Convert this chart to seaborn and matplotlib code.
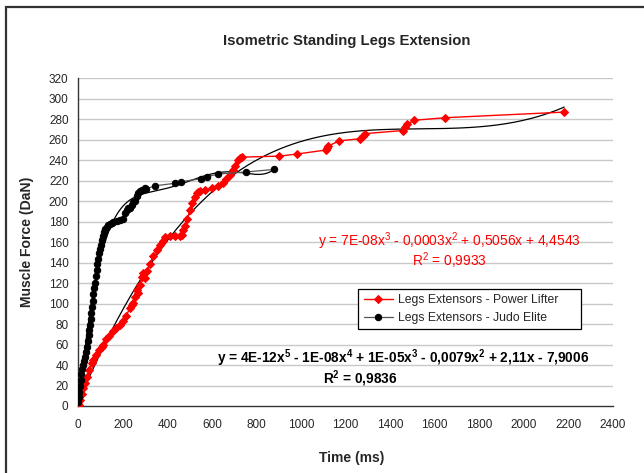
import numpy as np
import pandas as pd
import matplotlib
matplotlib.use("Agg")
import matplotlib.pyplot as plt
import seaborn as sns
from matplotlib.patches import Rectangle

# ---------------- data ----------------
power_time = [3, 8, 15, 22, 30, 40, 50, 60, 67, 80, 95, 105, 112, 125, 140, 157, 170, 185,
              202, 215, 232, 239, 245, 255, 262, 269, 278, 284, 292, 299, 310, 322, 335,
              352, 365, 378, 389, 410, 435, 456, 464, 472, 479, 490, 501, 512, 522, 531,
              538, 546, 570, 598, 625, 651, 665, 680, 695, 705, 718, 725, 733, 902, 980,
              1112, 1118, 1123, 1172, 1266, 1280, 1288, 1457, 1465, 1474, 1507, 1645, 1645,
              2181]
power_force = [1, 6, 12, 18, 22, 28, 35, 42, 45, 50, 55, 58, 60, 65, 68, 73, 76, 79,
               83, 88, 96, 99, 101, 106, 113, 110, 118, 126, 130, 125, 132, 139, 146,
               152, 157, 161, 165, 166, 166, 166, 167, 172, 176, 183, 191, 198, 204, 208,
               209, 210, 211, 213, 215, 218, 222, 226, 230, 234, 240, 242, 243, 244, 246,
               250, 252, 254, 259, 261, 264, 266, 269, 272, 275, 279, 280, 283,
               287]

judo_time = [0, 2, 4, 7, 10, 14, 18, 22, 26, 30, 34, 38, 42, 46, 50, 53, 56, 59, 62, 65,
             68, 71, 74, 78, 82, 86, 90, 94, 98, 102, 107, 112, 117, 122, 127, 134, 142,
             150, 157, 172, 187, 202, 210, 217, 225, 232, 239, 247, 254, 262, 269, 276,
             284, 299, 304, 344, 434, 461, 551, 579, 628, 752, 879]
judo_force = [4, 9, 14, 20, 25, 31, 36, 40, 44, 48, 53, 58, 63, 69, 74, 79, 85, 91, 97, 103,
              109, 115, 120, 127, 133, 139, 144, 149, 153, 157, 162, 166, 170, 173, 175, 177, 178,
              179, 180, 181, 182, 183, 188, 191, 193, 193, 196, 199, 200, 205, 208, 210,
              211, 213, 212, 215, 217.5, 219, 222, 224, 226.5, 228.5, 231]

power_label = "Legs Extensors - Power Lifter"
judo_label = "Legs Extensors - Judo Elite"
title = "Isometric Standing Legs Extension"
x_label = "Time (ms)"
y_label = "Muscle Force (DaN)"
x_ticks = list(range(0, 2401, 200))
y_ticks = list(range(0, 321, 20))
power_degree = 3
judo_degree = 5

# ---------------- styling ----------------
sns.set_style("white")
plt.rcParams["font.family"] = ["Liberation Sans", "DejaVu Sans"]
plt.rcParams["mathtext.fontset"] = "custom"
plt.rcParams["mathtext.rm"] = "Liberation Sans"
plt.rcParams["mathtext.bf"] = "Liberation Sans:bold"

fig = plt.figure(figsize=(6.44, 4.73), dpi=100)
W, H = 644, 473
X0, X1, Y0, Y1 = 78.3, 613.0, 406.0, 78.3
ax = fig.add_axes([X0 / W, 1 - Y0 / H, (X1 - X0) / W, (Y0 - Y1) / H])

# outer chart frame
fig.patches.append(Rectangle((5.5 / W, -0.2), 1.2, 1 - 7.5 / H + 0.2, transform=fig.transFigure,
                             fill=False, edgecolor="#333333", linewidth=1.6, zorder=0))

power_df = pd.DataFrame({"t": power_time, "f": power_force})
judo_df = pd.DataFrame({"t": judo_time, "f": judo_force})

# gridlines
for yv in y_ticks[1:]:
    ax.axhline(yv, color="#c8c8c8", linewidth=1.0, zorder=0)

# trendlines (polynomial fits of the series)
pc = np.polyfit(power_df["t"], power_df["f"], power_degree)
px = np.linspace(min(power_time), max(power_time), 300)
sns.lineplot(x=px, y=np.polyval(pc, px), ax=ax, color="black", linewidth=0.9, zorder=2)
jc = np.polyfit(judo_df["t"], judo_df["f"], judo_degree)
jx = np.linspace(min(judo_time), max(judo_time), 300)
sns.lineplot(x=jx, y=np.polyval(jc, jx), ax=ax, color="black", linewidth=0.9, zorder=2)

# series
sns.lineplot(data=power_df, x="t", y="f", sort=False, ax=ax, color="#ff0000", linewidth=1.0,
             marker="D", markersize=3.8, markeredgecolor="#ff0000", markerfacecolor="#ff0000",
             label=power_label, zorder=3)
sns.lineplot(data=judo_df, x="t", y="f", sort=False, ax=ax, color="#555555", linewidth=0.9,
             marker="o", markersize=4.6, markeredgecolor="black", markerfacecolor="black",
             label=judo_label, zorder=4)

ax.set_xlim(0, 2400)
ax.set_ylim(0, 320)
ax.set_xticks(x_ticks)
ax.set_yticks(y_ticks)
ax.set_xticklabels([str(v) for v in x_ticks], fontsize=8.5)
ax.set_yticklabels([str(v) for v in y_ticks], fontsize=8.5)
ax.tick_params(axis="both", direction="out", length=4, width=1, color="#333333", pad=3)
ax.tick_params(axis="x", pad=5)
for s in ["top", "right"]:
    ax.spines[s].set_visible(False)
for s in ["left", "bottom"]:
    ax.spines[s].set_color("#333333")
    ax.spines[s].set_linewidth(1.0)
ax.set_xlabel("")
ax.set_ylabel("")

fig.text(347 / W, 1 - 41 / H, title, ha="center", va="center", fontsize=10.7, fontweight="bold")
fig.text(352 / W, 1 - 458 / H, x_label, ha="center", va="center", fontsize=10, fontweight="bold")
fig.text(27 / W, 1 - 242 / H, y_label, ha="center", va="center", rotation=90, fontsize=10.1,
         fontweight="bold")

# trendline equations
fig.text(449 / W, 1 - 241 / H, r"y = 7E-08x$^{3}$ - 0,0003x$^{2}$ + 0,5056x + 4,4543",
         ha="center", va="center", fontsize=9.9, color="#ff0000")
fig.text(449 / W, 1 - 261 / H, r"R$^{2}$ = 0,9933", ha="center", va="center", fontsize=9.9,
         color="#ff0000")
fig.text(403 / W, 1 - 358 / H,
         r"y = 4E-12x$^{\mathbf{5}}$ - 1E-08x$^{\mathbf{4}}$ + 1E-05x$^{\mathbf{3}}$ - 0,0079x$^{\mathbf{2}}$ + 2,11x - 7,9006",
         ha="center", va="center", fontsize=9.8, fontweight="bold", color="black")
fig.text(360 / W, 1 - 379 / H, r"R$^{\mathbf{2}}$ = 0,9836", ha="center", va="center",
         fontsize=9.8, fontweight="bold", color="black")

# legend box: 358..581 px wide, top at 289 px
lx0 = (358 - X0) / (X1 - X0)
lw = (581 - 358) / (X1 - X0)
ltop = (Y0 - 289) / (Y0 - Y1)
lh = (330 - 289) / (Y0 - Y1)
leg = ax.legend(loc="upper left", bbox_to_anchor=(lx0, ltop - lh, lw, lh), mode="expand",
                fontsize=8.8, frameon=True, fancybox=False, edgecolor="black", framealpha=1,
                handlelength=2.4, borderpad=0.45, labelspacing=0.45, handletextpad=0.4,
                borderaxespad=0)
leg.get_frame().set_linewidth(0.9)

fig.savefig("out.png", dpi=100)
